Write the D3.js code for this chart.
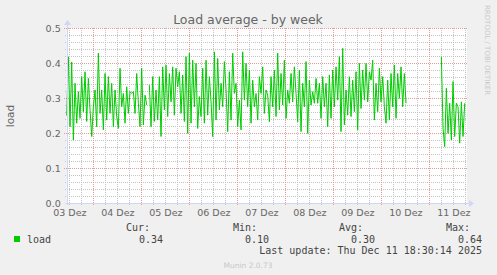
<!DOCTYPE html>
<html>
<head>
<meta charset="utf-8">
<script src="https://cdn.jsdelivr.net/npm/d3@7"></script>
<style>
  body { margin: 0; background: #F0F0F0; }
  svg { display: block; }
</style>
</head>
<body>
<div id="chart"></div>
<script>
// load average samples, one every 50 minutes, three runs with gaps between them
const segStarts = ["2025-12-03T10:40Z", "2025-12-05T04:00Z", "2025-12-11T06:00Z"];
const seg1 = [0.25, 0.418, 0.218, 0.403, 0.180, 0.342, 0.228, 0.318, 0.242, 0.361, 0.261, 0.375, 0.233, 0.356, 0.266, 0.190, 0.275, 0.323, 0.218, 0.428,
  0.256, 0.323, 0.209, 0.370, 0.237, 0.361, 0.256, 0.342, 0.218, 0.323, 0.247, 0.213, 0.385, 0.275, 0.313, 0.228, 0.332, 0.256, 0.318, 0.313,
  0.318, 0.256, 0.370, 0.285, 0.218, 0.385, 0.223, 0.308, 0.280];
const seg2 = [0.337, 0.218, 0.361, 0.233, 0.323, 0.237, 0.361, 0.190, 0.389, 0.266, 0.394, 0.247, 0.370, 0.289, 0.389, 0.251, 0.385, 0.332, 0.375, 0.256,
  0.366, 0.233, 0.418, 0.199, 0.428, 0.228, 0.408, 0.275, 0.399,
  0.213, 0.304, 0.247, 0.385, 0.228, 0.408, 0.251, 0.361, 0.289, 0.190, 0.432, 0.237, 0.413, 0.266, 0.342, 0.275, 0.404, 0.323, 0.204, 0.375,
  0.237, 0.428, 0.313, 0.342, 0.218, 0.294, 0.209, 0.432, 0.294, 0.399, 0.275, 0.380, 0.228, 0.351, 0.275, 0.313, 0.237, 0.361, 0.313, 0.389, 0.256, 0.323, 0.308,
  0.232, 0.361, 0.275, 0.380, 0.247, 0.428, 0.266, 0.370, 0.280, 0.408, 0.242, 0.323, 0.285, 0.370, 0.289, 0.389, 0.313, 0.232, 0.380, 0.204,
  0.342, 0.275, 0.404, 0.199, 0.351, 0.280, 0.318, 0.285, 0.356, 0.285, 0.342, 0.242, 0.361, 0.275, 0.342, 0.218, 0.366, 0.242, 0.380, 0.275, 0.389, 0.294,
  0.418, 0.204, 0.442, 0.223, 0.323, 0.251, 0.361, 0.247, 0.351, 0.261, 0.375, 0.209, 0.399, 0.270, 0.380, 0.294, 0.399, 0.289, 0.375, 0.351,
  0.408, 0.237, 0.342, 0.261, 0.385, 0.289, 0.361, 0.275, 0.228, 0.351, 0.237, 0.370, 0.275, 0.394, 0.242, 0.370, 0.299, 0.389, 0.275, 0.370, 0.285];
const seg3 = [0.418, 0.213, 0.161, 0.328, 0.199, 0.285, 0.180, 0.347, 0.190, 0.285, 0.275, 0.171, 0.289, 0.190, 0.285];
const yTicks = [0, 0.1, 0.2, 0.3, 0.4, 0.5];
const legendHeads = ["Cur:", "Min:", "Avg:", "Max:"];
const legendValues = ["0.34", "0.10", "0.30", "0.64"];

const w = 497, h = 275;
const pLeft = 66.7, pRight = 466.7, pTop = 28, pBottom = 203;
const stepMs = 50 * 60 * 1000;
const tStart = new Date("2025-12-03T10:40Z");
const tEnd = new Date(tStart.getTime() + 200 * 3600 * 1000);

let x = d3.scaleUtc().domain([tStart, tEnd]).range([pLeft, pRight]);
let y = d3.scaleLinear().domain([0, 0.5]).range([pBottom, pTop]);

let points = [];
[seg1, seg2, seg3].forEach((seg, s) => {
    let t0 = new Date(segStarts[s]).getTime();
    seg.forEach((v, i) => points.push({t: new Date(t0 + i * stepMs), v: v}));
    points.push(null); // gap
});

let svg = d3.select("#chart").append("svg")
    .attr("width", w)
    .attr("height", h)
    .style("font-family", "'DejaVu Sans', sans-serif");

svg.append("rect").attr("width", w).attr("height", h).attr("fill", "#F0F0F0");
svg.append("rect")
    .attr("x", pLeft).attr("y", pTop)
    .attr("width", pRight - pLeft).attr("height", pBottom - pTop)
    .attr("fill", "#FFFFFF");

// grid (integer endpoints so the 1px dots stay sharp)
let grid = svg.append("g");
let minorX = x.ticks(d3.utcHour.every(6)).filter(d => d.getUTCHours() != 0);
let majorX = x.ticks(d3.utcDay.every(1));
let minorY = d3.range(0, 0.501, 0.02).filter(v => Math.round(v * 100) % 10 != 0);
let minorCol = "#C4C4C4", majorCol = "#E39C9C";
let gx0 = Math.round(pLeft), gx1 = Math.round(pRight);

grid.selectAll(".vminor").data(minorX).enter().append("line")
    .attr("x1", d => Math.round(x(d)) + 0.5).attr("x2", d => Math.round(x(d)) + 0.5)
    .attr("y1", pTop).attr("y2", pBottom + 2)
    .attr("stroke", minorCol).attr("stroke-dasharray", "1,1");
grid.selectAll(".hminor").data(minorY).enter().append("line")
    .attr("x1", gx0 - 2).attr("x2", gx1)
    .attr("y1", d => Math.round(y(d)) + 0.5).attr("y2", d => Math.round(y(d)) + 0.5)
    .attr("stroke", minorCol).attr("stroke-dasharray", "1,1");
grid.selectAll(".vmajor").data(majorX).enter().append("line")
    .attr("x1", d => Math.round(x(d)) + 0.5).attr("x2", d => Math.round(x(d)) + 0.5)
    .attr("y1", pTop).attr("y2", pBottom + 3)
    .attr("stroke", majorCol).attr("stroke-dasharray", "1,1");
grid.selectAll(".hmajor").data(yTicks.slice(1)).enter().append("line")
    .attr("x1", gx0 - 3).attr("x2", gx1 + 1)
    .attr("y1", d => Math.round(y(d)) + 0.5).attr("y2", d => Math.round(y(d)) + 0.5)
    .attr("stroke", majorCol).attr("stroke-dasharray", "1,1");

// data line
let line = d3.line()
    .defined(d => d !== null)
    .x(d => x(d.t))
    .y(d => y(d.v));
svg.append("path")
    .datum(points)
    .attr("d", line)
    .attr("fill", "none")
    .attr("stroke", "#00CC00")
    .attr("stroke-width", 1);

// axes lines with arrows
let axisCol = "#CFD6F8";
svg.append("line").attr("x1", gx0 - 2).attr("x2", gx1 + 3)
    .attr("y1", pBottom + 0.5).attr("y2", pBottom + 0.5).attr("stroke", axisCol);
svg.append("line").attr("x1", gx0 + 0.5).attr("x2", gx0 + 0.5)
    .attr("y1", pBottom + 2).attr("y2", pTop - 4).attr("stroke", axisCol);
svg.append("path").attr("d", `M${gx1 + 2},${pBottom - 3}L${gx1 + 7},${pBottom + 0.5}L${gx1 + 2},${pBottom + 4}Z`).attr("fill", axisCol);
svg.append("path").attr("d", `M${gx0 - 3},${pTop - 3}L${gx0 + 0.5},${pTop - 8}L${gx0 + 4},${pTop - 3}Z`).attr("fill", axisCol);

// tick labels
let yAxis = svg.append("g")
    .attr("transform", `translate(${pLeft - 4},0)`)
    .call(d3.axisLeft(y).tickValues(yTicks).tickFormat(d3.format(".1f")).tickSize(0).tickPadding(2));
let xLabels = majorX.map(d => new Date(d.getTime() - 12 * 3600 * 1000))
    .concat([new Date(majorX[majorX.length - 1].getTime() + 12 * 3600 * 1000)])
    .filter(d => d >= tStart && d <= tEnd);
let xAxis = svg.append("g")
    .attr("transform", `translate(0,${pBottom})`)
    .call(d3.axisBottom(x).tickValues(xLabels).tickFormat(d => d3.utcFormat("%d")(d) + " Dez").tickSize(0).tickPadding(6));
[yAxis, xAxis].forEach(a => {
    a.select(".domain").remove();
    a.selectAll("text").attr("fill", "#666666").style("font-size", "9.5px").style("font-family", "'DejaVu Sans', sans-serif");
});

// title and labels
svg.append("text")
    .attr("x", 248).attr("y", 24)
    .attr("text-anchor", "middle")
    .attr("fill", "#666666")
    .style("font-size", "12.5px")
    .text("Load average - by week");
svg.append("text")
    .attr("transform", "translate(14,116) rotate(-90)")
    .attr("text-anchor", "middle")
    .attr("fill", "#666666")
    .style("font-size", "10.5px")
    .text("load");
svg.append("text")
    .attr("transform", "translate(485,5) rotate(90)")
    .attr("fill", "#C8C8C8")
    .style("font-size", "7px")
    .text("RRDTOOL / TOBI OETIKER");

// legend
let mono = "'DejaVu Sans Mono', monospace";
svg.append("rect").attr("x", 14).attr("y", 236).attr("width", 6).attr("height", 6).attr("fill", "#00CC00");
svg.append("text").attr("x", 27).attr("y", 243)
    .attr("fill", "#444444").style("font-family", mono).style("font-size", "10px")
    .text("load");
let headX = [150, 257, 363, 470];
let valX = [163, 269, 375, 482];
svg.selectAll(".head").data(legendHeads).enter().append("text")
    .attr("x", (d, i) => headX[i]).attr("y", 231)
    .attr("text-anchor", "end")
    .attr("fill", "#444444").style("font-family", mono).style("font-size", "10px")
    .text(d => d);
svg.selectAll(".val").data(legendValues).enter().append("text")
    .attr("x", (d, i) => valX[i]).attr("y", 243)
    .attr("text-anchor", "end")
    .attr("fill", "#444444").style("font-family", mono).style("font-size", "10px")
    .text(d => d);
svg.append("text").attr("x", 482).attr("y", 254)
    .attr("text-anchor", "end")
    .attr("fill", "#444444").style("font-family", mono).style("font-size", "10px")
    .text("Last update: Thu Dec 11 18:30:14 2025");
svg.append("text").attr("x", 248).attr("y", 268)
    .attr("text-anchor", "middle")
    .attr("fill", "#C8C8C8")
    .style("font-size", "7.5px")
    .text("Munin 2.0.73");
</script>
</body>
</html>
